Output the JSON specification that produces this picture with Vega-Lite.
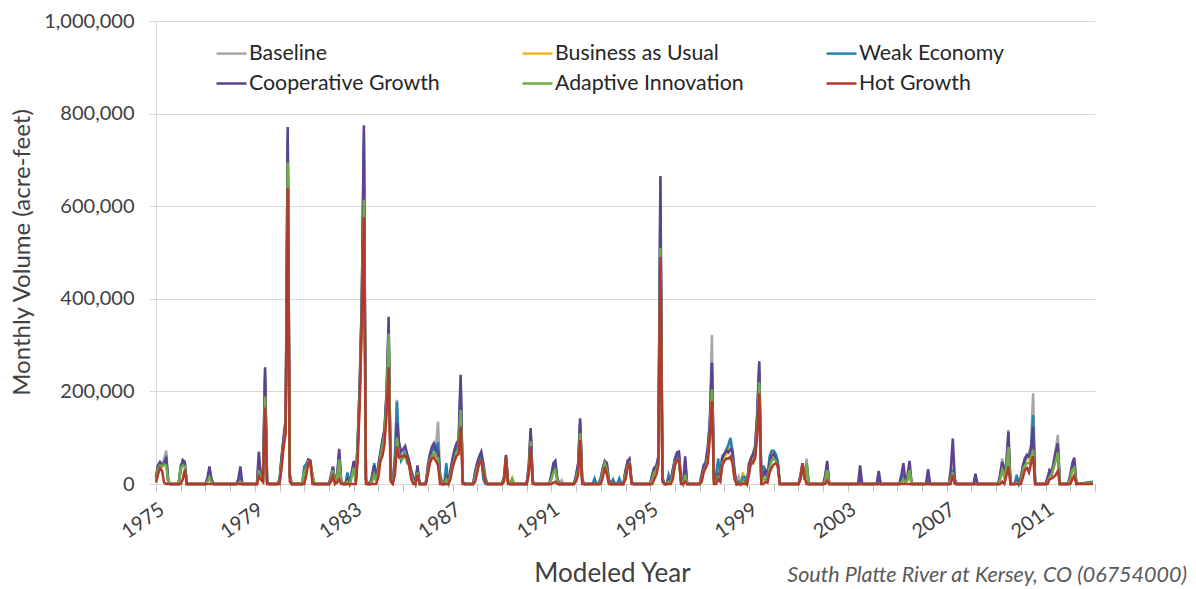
{
  "$schema": "https://vega.github.io/schema/vega-lite/v6.json",
  "width": 939,
  "height": 463,
  "autosize": {"type": "none"},
  "padding": {"left": 156, "top": 21, "right": 101, "bottom": 105},
  "background": "white",
  "config": {
    "view": {"stroke": null},
    "font": "Lato"
  },
  "title": {
    "text": "South Platte River at Kersey, CO (06754000)",
    "orient": "bottom",
    "anchor": "end",
    "frame": "group",
    "font": "Lato",
    "fontStyle": "italic",
    "fontWeight": "normal",
    "fontSize": 21.5,
    "color": "#595959",
    "dx": 92,
    "offset": -21
  },
  "data": {
    "values": [
      {"d":"1975-01","B":15000,"U":10000,"W":15000,"C":15000,"A":10000,"H":3000},
      {"d":"1975-02","B":42000,"U":35000,"W":40000,"C":40000,"A":32000,"H":22000},
      {"d":"1975-03","B":48000,"U":42000,"W":45000,"C":47000,"A":40000,"H":35000},
      {"d":"1975-04","B":42000,"U":38000,"W":40000,"C":40000,"A":38000,"H":28000},
      {"d":"1975-05","B":55000,"U":42000,"W":45000,"C":45000,"A":42000,"H":3000},
      {"d":"1975-06","B":72000,"U":50000,"W":55000,"C":58000,"A":40000,"H":0},
      {"d":"1975-07","B":8000,"U":5000,"W":5000,"C":5000,"A":5000,"H":0},
      {"d":"1975-08","B":0,"U":0,"W":0,"C":0,"A":0,"H":0},
      {"d":"1975-12","B":0,"U":0,"W":0,"C":0,"A":0,"H":0},
      {"d":"1976-01","B":30000,"U":35000,"W":40000,"C":30000,"A":35000,"H":0},
      {"d":"1976-02","B":50000,"U":45000,"W":48000,"C":52000,"A":40000,"H":10000},
      {"d":"1976-03","B":48000,"U":42000,"W":45000,"C":48000,"A":38000,"H":31000},
      {"d":"1976-04","B":0,"U":0,"W":0,"C":0,"A":0,"H":0},
      {"d":"1977-01","B":0,"U":0,"W":0,"C":0,"A":0,"H":0},
      {"d":"1977-02","B":10000,"U":8000,"W":10000,"C":15000,"A":5000,"H":0},
      {"d":"1977-03","B":30000,"U":20000,"W":25000,"C":38000,"A":15000,"H":0},
      {"d":"1977-04","B":5000,"U":3000,"W":5000,"C":10000,"A":2000,"H":0},
      {"d":"1977-05","B":0,"U":0,"W":0,"C":0,"A":0,"H":0},
      {"d":"1978-04","B":0,"U":0,"W":0,"C":0,"A":0,"H":0},
      {"d":"1978-05","B":3000,"U":2000,"W":3000,"C":10000,"A":2000,"H":0},
      {"d":"1978-06","B":15000,"U":8000,"W":10000,"C":38000,"A":5000,"H":0},
      {"d":"1978-07","B":0,"U":0,"W":0,"C":0,"A":0,"H":0},
      {"d":"1979-02","B":0,"U":0,"W":0,"C":0,"A":0,"H":0},
      {"d":"1979-03","B":60000,"U":40000,"W":45000,"C":70000,"A":30000,"H":17000},
      {"d":"1979-04","B":12000,"U":10000,"W":10000,"C":15000,"A":10000,"H":10000},
      {"d":"1979-05","B":8000,"U":5000,"W":8000,"C":10000,"A":5000,"H":5000},
      {"d":"1979-06","B":245000,"U":220000,"W":230000,"C":252000,"A":189000,"H":165000},
      {"d":"1979-07","B":5000,"U":3000,"W":5000,"C":5000,"A":3000,"H":0},
      {"d":"1979-08","B":0,"U":0,"W":0,"C":0,"A":0,"H":0},
      {"d":"1979-12","B":0,"U":0,"W":0,"C":0,"A":0,"H":0},
      {"d":"1980-01","B":5000,"U":5000,"W":5000,"C":10000,"A":5000,"H":0},
      {"d":"1980-02","B":60000,"U":50000,"W":55000,"C":60000,"A":45000,"H":35000},
      {"d":"1980-03","B":100000,"U":90000,"W":95000,"C":100000,"A":85000,"H":80000},
      {"d":"1980-04","B":140000,"U":125000,"W":130000,"C":141000,"A":120000,"H":110000},
      {"d":"1980-05","B":760000,"U":720000,"W":740000,"C":771000,"A":695000,"H":640000},
      {"d":"1980-06","B":15000,"U":15000,"W":15000,"C":20000,"A":15000,"H":5000},
      {"d":"1980-07","B":0,"U":0,"W":0,"C":0,"A":0,"H":0},
      {"d":"1980-12","B":0,"U":0,"W":0,"C":0,"A":0,"H":0},
      {"d":"1981-01","B":35000,"U":30000,"W":38000,"C":20000,"A":25000,"H":0},
      {"d":"1981-02","B":45000,"U":40000,"W":42000,"C":40000,"A":35000,"H":20000},
      {"d":"1981-03","B":52000,"U":48000,"W":50000,"C":53000,"A":48000,"H":45000},
      {"d":"1981-04","B":50000,"U":45000,"W":45000,"C":50000,"A":45000,"H":48000},
      {"d":"1981-05","B":15000,"U":12000,"W":18000,"C":15000,"A":20000,"H":0},
      {"d":"1981-06","B":0,"U":0,"W":0,"C":0,"A":0,"H":0},
      {"d":"1982-01","B":0,"U":0,"W":0,"C":0,"A":0,"H":0},
      {"d":"1982-02","B":15000,"U":12000,"W":15000,"C":20000,"A":10000,"H":5000},
      {"d":"1982-03","B":35000,"U":30000,"W":35000,"C":38000,"A":30000,"H":17000},
      {"d":"1982-04","B":5000,"U":3000,"W":5000,"C":5000,"A":3000,"H":0},
      {"d":"1982-05","B":15000,"U":10000,"W":12000,"C":20000,"A":15000,"H":3000},
      {"d":"1982-06","B":70000,"U":55000,"W":60000,"C":76000,"A":53000,"H":10000},
      {"d":"1982-07","B":5000,"U":3000,"W":5000,"C":5000,"A":3000,"H":0},
      {"d":"1982-08","B":0,"U":0,"W":0,"C":0,"A":0,"H":0},
      {"d":"1982-09","B":0,"U":0,"W":0,"C":0,"A":0,"H":0},
      {"d":"1982-10","B":5000,"U":15000,"W":25000,"C":10000,"A":5000,"H":0},
      {"d":"1982-11","B":0,"U":0,"W":0,"C":0,"A":0,"H":0},
      {"d":"1982-12","B":15000,"U":15000,"W":25000,"C":20000,"A":15000,"H":0},
      {"d":"1983-01","B":45000,"U":40000,"W":45000,"C":50000,"A":35000,"H":0},
      {"d":"1983-02","B":5000,"U":5000,"W":5000,"C":5000,"A":5000,"H":0},
      {"d":"1983-03","B":90000,"U":80000,"W":85000,"C":90000,"A":70000,"H":50000},
      {"d":"1983-04","B":220000,"U":200000,"W":210000,"C":220000,"A":190000,"H":180000},
      {"d":"1983-05","B":400000,"U":380000,"W":390000,"C":400000,"A":360000,"H":350000},
      {"d":"1983-06","B":760000,"U":700000,"W":740000,"C":775000,"A":614000,"H":576000},
      {"d":"1983-07","B":10000,"U":10000,"W":10000,"C":10000,"A":10000,"H":0},
      {"d":"1983-08","B":0,"U":0,"W":0,"C":0,"A":0,"H":0},
      {"d":"1983-09","B":0,"U":0,"W":0,"C":0,"A":0,"H":0},
      {"d":"1983-10","B":15000,"U":10000,"W":20000,"C":10000,"A":5000,"H":0},
      {"d":"1983-11","B":40000,"U":35000,"W":45000,"C":40000,"A":20000,"H":0},
      {"d":"1983-12","B":10000,"U":8000,"W":10000,"C":10000,"A":5000,"H":0},
      {"d":"1984-01","B":38000,"U":35000,"W":40000,"C":40000,"A":30000,"H":15000},
      {"d":"1984-02","B":65000,"U":60000,"W":65000,"C":70000,"A":55000,"H":50000},
      {"d":"1984-03","B":90000,"U":85000,"W":90000,"C":95000,"A":80000,"H":60000},
      {"d":"1984-04","B":115000,"U":110000,"W":115000,"C":120000,"A":105000,"H":85000},
      {"d":"1984-05","B":195000,"U":185000,"W":190000,"C":200000,"A":175000,"H":150000},
      {"d":"1984-06","B":340000,"U":320000,"W":330000,"C":361000,"A":325000,"H":252000},
      {"d":"1984-07","B":15000,"U":10000,"W":15000,"C":10000,"A":10000,"H":5000},
      {"d":"1984-08","B":5000,"U":5000,"W":5000,"C":5000,"A":5000,"H":0},
      {"d":"1984-09","B":50000,"U":45000,"W":60000,"C":40000,"A":30000,"H":20000},
      {"d":"1984-10","B":182000,"U":150000,"W":178000,"C":132000,"A":100000,"H":81000},
      {"d":"1984-11","B":80000,"U":65000,"W":70000,"C":90000,"A":60000,"H":58000},
      {"d":"1984-12","B":60000,"U":55000,"W":50000,"C":70000,"A":55000,"H":60000},
      {"d":"1985-01","B":65000,"U":60000,"W":60000,"C":75000,"A":55000,"H":60000},
      {"d":"1985-02","B":75000,"U":70000,"W":70000,"C":82000,"A":65000,"H":62000},
      {"d":"1985-03","B":60000,"U":50000,"W":50000,"C":65000,"A":45000,"H":55000},
      {"d":"1985-04","B":45000,"U":40000,"W":40000,"C":50000,"A":40000,"H":40000},
      {"d":"1985-05","B":25000,"U":20000,"W":20000,"C":30000,"A":20000,"H":10000},
      {"d":"1985-06","B":10000,"U":8000,"W":10000,"C":15000,"A":5000,"H":0},
      {"d":"1985-07","B":0,"U":0,"W":0,"C":0,"A":0,"H":0},
      {"d":"1985-08","B":35000,"U":30000,"W":35000,"C":40000,"A":25000,"H":20000},
      {"d":"1985-09","B":0,"U":0,"W":0,"C":0,"A":0,"H":0},
      {"d":"1985-12","B":0,"U":0,"W":0,"C":0,"A":0,"H":0},
      {"d":"1986-01","B":35000,"U":30000,"W":30000,"C":40000,"A":30000,"H":20000},
      {"d":"1986-02","B":60000,"U":55000,"W":55000,"C":65000,"A":50000,"H":45000},
      {"d":"1986-03","B":75000,"U":70000,"W":70000,"C":80000,"A":60000,"H":55000},
      {"d":"1986-04","B":85000,"U":75000,"W":80000,"C":88000,"A":65000,"H":57000},
      {"d":"1986-05","B":80000,"U":65000,"W":70000,"C":75000,"A":60000,"H":50000},
      {"d":"1986-06","B":135000,"U":60000,"W":90000,"C":70000,"A":55000,"H":40000},
      {"d":"1986-07","B":20000,"U":10000,"W":15000,"C":20000,"A":10000,"H":0},
      {"d":"1986-08","B":0,"U":0,"W":0,"C":0,"A":0,"H":0},
      {"d":"1986-09","B":0,"U":0,"W":0,"C":0,"A":0,"H":0},
      {"d":"1986-10","B":15000,"U":10000,"W":45000,"C":20000,"A":10000,"H":0},
      {"d":"1986-11","B":0,"U":0,"W":0,"C":0,"A":0,"H":0},
      {"d":"1986-12","B":25000,"U":20000,"W":25000,"C":30000,"A":20000,"H":10000},
      {"d":"1987-01","B":50000,"U":45000,"W":45000,"C":55000,"A":40000,"H":35000},
      {"d":"1987-02","B":70000,"U":60000,"W":65000,"C":75000,"A":55000,"H":50000},
      {"d":"1987-03","B":85000,"U":75000,"W":80000,"C":88000,"A":70000,"H":60000},
      {"d":"1987-04","B":90000,"U":80000,"W":85000,"C":95000,"A":75000,"H":65000},
      {"d":"1987-05","B":230000,"U":200000,"W":215000,"C":236000,"A":160000,"H":124000},
      {"d":"1987-06","B":5000,"U":3000,"W":5000,"C":5000,"A":3000,"H":0},
      {"d":"1987-07","B":0,"U":0,"W":0,"C":0,"A":0,"H":0},
      {"d":"1987-11","B":0,"U":0,"W":0,"C":0,"A":0,"H":0},
      {"d":"1987-12","B":25000,"U":20000,"W":25000,"C":25000,"A":15000,"H":5000},
      {"d":"1988-01","B":45000,"U":40000,"W":45000,"C":45000,"A":35000,"H":25000},
      {"d":"1988-02","B":58000,"U":50000,"W":55000,"C":60000,"A":45000,"H":45000},
      {"d":"1988-03","B":65000,"U":55000,"W":60000,"C":70000,"A":50000,"H":50000},
      {"d":"1988-04","B":40000,"U":35000,"W":10000,"C":45000,"A":35000,"H":25000},
      {"d":"1988-05","B":10000,"U":5000,"W":0,"C":15000,"A":10000,"H":5000},
      {"d":"1988-06","B":0,"U":0,"W":0,"C":0,"A":0,"H":0},
      {"d":"1989-01","B":0,"U":0,"W":0,"C":0,"A":0,"H":0},
      {"d":"1989-02","B":15000,"U":12000,"W":15000,"C":15000,"A":10000,"H":5000},
      {"d":"1989-03","B":60000,"U":55000,"W":55000,"C":63000,"A":50000,"H":58000},
      {"d":"1989-04","B":5000,"U":3000,"W":5000,"C":5000,"A":5000,"H":0},
      {"d":"1989-05","B":0,"U":0,"W":0,"C":0,"A":0,"H":0},
      {"d":"1989-06","B":5000,"U":0,"W":0,"C":0,"A":12000,"H":0},
      {"d":"1989-07","B":0,"U":0,"W":0,"C":0,"A":0,"H":0},
      {"d":"1990-01","B":0,"U":0,"W":0,"C":0,"A":0,"H":0},
      {"d":"1990-02","B":35000,"U":30000,"W":30000,"C":40000,"A":25000,"H":20000},
      {"d":"1990-03","B":115000,"U":100000,"W":110000,"C":121000,"A":92000,"H":82000},
      {"d":"1990-04","B":5000,"U":3000,"W":5000,"C":5000,"A":3000,"H":0},
      {"d":"1990-05","B":0,"U":0,"W":0,"C":0,"A":0,"H":0},
      {"d":"1990-12","B":0,"U":0,"W":0,"C":0,"A":0,"H":0},
      {"d":"1991-01","B":18000,"U":15000,"W":15000,"C":20000,"A":10000,"H":0},
      {"d":"1991-02","B":42000,"U":38000,"W":40000,"C":45000,"A":25000,"H":3000},
      {"d":"1991-03","B":45000,"U":40000,"W":42000,"C":50000,"A":30000,"H":5000},
      {"d":"1991-04","B":10000,"U":5000,"W":5000,"C":10000,"A":5000,"H":0},
      {"d":"1991-05","B":0,"U":0,"W":0,"C":0,"A":0,"H":0},
      {"d":"1991-06","B":8000,"U":0,"W":0,"C":0,"A":0,"H":0},
      {"d":"1991-07","B":0,"U":0,"W":0,"C":0,"A":0,"H":0},
      {"d":"1991-12","B":0,"U":0,"W":0,"C":0,"A":0,"H":0},
      {"d":"1992-01","B":18000,"U":15000,"W":15000,"C":20000,"A":10000,"H":5000},
      {"d":"1992-02","B":42000,"U":38000,"W":40000,"C":45000,"A":30000,"H":20000},
      {"d":"1992-03","B":138000,"U":125000,"W":130000,"C":142000,"A":110000,"H":95000},
      {"d":"1992-04","B":10000,"U":5000,"W":5000,"C":10000,"A":5000,"H":0},
      {"d":"1992-05","B":0,"U":0,"W":0,"C":0,"A":0,"H":0},
      {"d":"1992-09","B":0,"U":0,"W":0,"C":0,"A":0,"H":0},
      {"d":"1992-10","B":5000,"U":0,"W":12000,"C":0,"A":0,"H":0},
      {"d":"1992-11","B":0,"U":0,"W":0,"C":0,"A":0,"H":0},
      {"d":"1992-12","B":0,"U":0,"W":0,"C":0,"A":0,"H":0},
      {"d":"1993-01","B":10000,"U":5000,"W":15000,"C":10000,"A":5000,"H":0},
      {"d":"1993-02","B":35000,"U":30000,"W":35000,"C":35000,"A":30000,"H":15000},
      {"d":"1993-03","B":48000,"U":42000,"W":45000,"C":50000,"A":45000,"H":37000},
      {"d":"1993-04","B":40000,"U":35000,"W":35000,"C":45000,"A":30000,"H":20000},
      {"d":"1993-05","B":5000,"U":3000,"W":5000,"C":10000,"A":3000,"H":0},
      {"d":"1993-06","B":0,"U":0,"W":0,"C":0,"A":0,"H":0},
      {"d":"1993-07","B":0,"U":0,"W":10000,"C":0,"A":0,"H":0},
      {"d":"1993-08","B":0,"U":0,"W":0,"C":0,"A":0,"H":0},
      {"d":"1993-09","B":0,"U":0,"W":0,"C":0,"A":0,"H":0},
      {"d":"1993-10","B":0,"U":0,"W":12000,"C":0,"A":0,"H":0},
      {"d":"1993-11","B":0,"U":0,"W":0,"C":0,"A":0,"H":0},
      {"d":"1993-12","B":0,"U":0,"W":0,"C":0,"A":0,"H":0},
      {"d":"1994-01","B":28000,"U":25000,"W":25000,"C":30000,"A":20000,"H":10000},
      {"d":"1994-02","B":48000,"U":45000,"W":45000,"C":50000,"A":40000,"H":35000},
      {"d":"1994-03","B":52000,"U":48000,"W":50000,"C":55000,"A":45000,"H":45000},
      {"d":"1994-04","B":5000,"U":3000,"W":5000,"C":5000,"A":3000,"H":0},
      {"d":"1994-05","B":0,"U":0,"W":0,"C":0,"A":0,"H":0},
      {"d":"1995-01","B":0,"U":0,"W":0,"C":0,"A":0,"H":0},
      {"d":"1995-02","B":15000,"U":15000,"W":20000,"C":20000,"A":10000,"H":0},
      {"d":"1995-03","B":30000,"U":30000,"W":35000,"C":35000,"A":25000,"H":10000},
      {"d":"1995-04","B":35000,"U":35000,"W":38000,"C":38000,"A":30000,"H":20000},
      {"d":"1995-05","B":55000,"U":50000,"W":55000,"C":60000,"A":45000,"H":40000},
      {"d":"1995-06","B":662000,"U":560000,"W":600000,"C":665000,"A":510000,"H":490000},
      {"d":"1995-07","B":10000,"U":8000,"W":10000,"C":15000,"A":8000,"H":5000},
      {"d":"1995-08","B":0,"U":0,"W":0,"C":0,"A":0,"H":0},
      {"d":"1995-09","B":0,"U":0,"W":0,"C":0,"A":0,"H":0},
      {"d":"1995-10","B":10000,"U":10000,"W":20000,"C":10000,"A":5000,"H":0},
      {"d":"1995-11","B":5000,"U":5000,"W":5000,"C":5000,"A":3000,"H":0},
      {"d":"1995-12","B":30000,"U":25000,"W":30000,"C":30000,"A":20000,"H":10000},
      {"d":"1996-01","B":50000,"U":45000,"W":50000,"C":55000,"A":45000,"H":40000},
      {"d":"1996-02","B":65000,"U":55000,"W":60000,"C":68000,"A":50000,"H":50000},
      {"d":"1996-03","B":65000,"U":60000,"W":60000,"C":70000,"A":50000,"H":55000},
      {"d":"1996-04","B":10000,"U":5000,"W":10000,"C":10000,"A":5000,"H":0},
      {"d":"1996-05","B":0,"U":0,"W":0,"C":0,"A":0,"H":0},
      {"d":"1996-06","B":50000,"U":25000,"W":25000,"C":60000,"A":20000,"H":5000},
      {"d":"1996-07","B":0,"U":0,"W":0,"C":0,"A":0,"H":0},
      {"d":"1997-01","B":0,"U":0,"W":0,"C":0,"A":0,"H":0},
      {"d":"1997-02","B":15000,"U":15000,"W":20000,"C":20000,"A":10000,"H":5000},
      {"d":"1997-03","B":38000,"U":35000,"W":40000,"C":40000,"A":30000,"H":25000},
      {"d":"1997-04","B":45000,"U":40000,"W":45000,"C":48000,"A":35000,"H":35000},
      {"d":"1997-05","B":75000,"U":65000,"W":70000,"C":80000,"A":55000,"H":45000},
      {"d":"1997-06","B":140000,"U":120000,"W":135000,"C":130000,"A":110000,"H":100000},
      {"d":"1997-07","B":322000,"U":240000,"W":261000,"C":262000,"A":204000,"H":179000},
      {"d":"1997-08","B":5000,"U":5000,"W":5000,"C":10000,"A":5000,"H":0},
      {"d":"1997-09","B":5000,"U":10000,"W":20000,"C":5000,"A":5000,"H":0},
      {"d":"1997-10","B":40000,"U":40000,"W":55000,"C":20000,"A":15000,"H":10000},
      {"d":"1997-11","B":15000,"U":15000,"W":20000,"C":10000,"A":10000,"H":5000},
      {"d":"1997-12","B":60000,"U":55000,"W":60000,"C":55000,"A":45000,"H":40000},
      {"d":"1998-01","B":65000,"U":60000,"W":65000,"C":65000,"A":50000,"H":50000},
      {"d":"1998-02","B":70000,"U":65000,"W":75000,"C":72000,"A":55000,"H":55000},
      {"d":"1998-03","B":75000,"U":70000,"W":85000,"C":68000,"A":55000,"H":55000},
      {"d":"1998-04","B":100000,"U":80000,"W":99000,"C":75000,"A":60000,"H":58000},
      {"d":"1998-05","B":75000,"U":60000,"W":70000,"C":70000,"A":50000,"H":45000},
      {"d":"1998-06","B":25000,"U":20000,"W":20000,"C":30000,"A":15000,"H":10000},
      {"d":"1998-07","B":0,"U":0,"W":0,"C":0,"A":0,"H":0},
      {"d":"1998-08","B":15000,"U":0,"W":5000,"C":0,"A":0,"H":0},
      {"d":"1998-09","B":0,"U":0,"W":0,"C":0,"A":0,"H":0},
      {"d":"1998-10","B":10000,"U":25000,"W":15000,"C":5000,"A":5000,"H":0},
      {"d":"1998-11","B":5000,"U":10000,"W":15000,"C":5000,"A":0,"H":0},
      {"d":"1998-12","B":0,"U":0,"W":0,"C":0,"A":0,"H":0},
      {"d":"1999-01","B":40000,"U":40000,"W":45000,"C":40000,"A":30000,"H":20000},
      {"d":"1999-02","B":55000,"U":50000,"W":55000,"C":57000,"A":45000,"H":50000},
      {"d":"1999-03","B":60000,"U":55000,"W":60000,"C":65000,"A":50000,"H":45000},
      {"d":"1999-04","B":80000,"U":70000,"W":75000,"C":82000,"A":60000,"H":55000},
      {"d":"1999-05","B":150000,"U":130000,"W":140000,"C":150000,"A":120000,"H":100000},
      {"d":"1999-06","B":262000,"U":235000,"W":245000,"C":265000,"A":220000,"H":196000},
      {"d":"1999-07","B":10000,"U":5000,"W":10000,"C":10000,"A":5000,"H":0},
      {"d":"1999-08","B":30000,"U":30000,"W":40000,"C":20000,"A":10000,"H":0},
      {"d":"1999-09","B":20000,"U":15000,"W":20000,"C":30000,"A":10000,"H":5000},
      {"d":"1999-10","B":15000,"U":15000,"W":15000,"C":20000,"A":10000,"H":3000},
      {"d":"1999-11","B":50000,"U":55000,"W":60000,"C":45000,"A":35000,"H":25000},
      {"d":"1999-12","B":68000,"U":70000,"W":72000,"C":60000,"A":50000,"H":35000},
      {"d":"2000-01","B":70000,"U":70000,"W":72000,"C":65000,"A":55000,"H":42000},
      {"d":"2000-02","B":60000,"U":60000,"W":65000,"C":55000,"A":50000,"H":45000},
      {"d":"2000-03","B":45000,"U":45000,"W":50000,"C":40000,"A":40000,"H":40000},
      {"d":"2000-04","B":0,"U":0,"W":0,"C":0,"A":0,"H":0},
      {"d":"2001-01","B":0,"U":0,"W":0,"C":0,"A":0,"H":0},
      {"d":"2001-02","B":20000,"U":15000,"W":15000,"C":20000,"A":15000,"H":10000},
      {"d":"2001-03","B":45000,"U":40000,"W":40000,"C":45000,"A":40000,"H":45000},
      {"d":"2001-04","B":10000,"U":10000,"W":10000,"C":10000,"A":10000,"H":15000},
      {"d":"2001-05","B":55000,"U":40000,"W":40000,"C":45000,"A":45000,"H":0},
      {"d":"2001-06","B":0,"U":0,"W":0,"C":0,"A":0,"H":0},
      {"d":"2002-01","B":0,"U":0,"W":0,"C":0,"A":0,"H":0},
      {"d":"2002-02","B":15000,"U":10000,"W":15000,"C":20000,"A":10000,"H":0},
      {"d":"2002-03","B":45000,"U":40000,"W":40000,"C":50000,"A":30000,"H":8000},
      {"d":"2002-04","B":0,"U":0,"W":0,"C":0,"A":0,"H":0},
      {"d":"2003-06","B":0,"U":0,"W":0,"C":0,"A":0,"H":0},
      {"d":"2003-07","B":10000,"U":0,"W":10000,"C":40000,"A":0,"H":0},
      {"d":"2003-08","B":0,"U":0,"W":0,"C":0,"A":0,"H":0},
      {"d":"2004-03","B":0,"U":0,"W":0,"C":0,"A":0,"H":0},
      {"d":"2004-04","B":10000,"U":0,"W":8000,"C":28000,"A":0,"H":0},
      {"d":"2004-05","B":0,"U":0,"W":0,"C":0,"A":0,"H":0},
      {"d":"2005-02","B":0,"U":0,"W":0,"C":0,"A":0,"H":0},
      {"d":"2005-03","B":5000,"U":3000,"W":5000,"C":20000,"A":3000,"H":0},
      {"d":"2005-04","B":25000,"U":15000,"W":20000,"C":45000,"A":10000,"H":0},
      {"d":"2005-05","B":5000,"U":3000,"W":5000,"C":5000,"A":3000,"H":0},
      {"d":"2005-06","B":10000,"U":8000,"W":10000,"C":20000,"A":10000,"H":0},
      {"d":"2005-07","B":35000,"U":25000,"W":30000,"C":50000,"A":30000,"H":0},
      {"d":"2005-08","B":0,"U":0,"W":0,"C":0,"A":0,"H":0},
      {"d":"2006-03","B":0,"U":0,"W":0,"C":0,"A":0,"H":0},
      {"d":"2006-04","B":8000,"U":0,"W":5000,"C":32000,"A":0,"H":0},
      {"d":"2006-05","B":0,"U":0,"W":0,"C":0,"A":0,"H":0},
      {"d":"2007-02","B":0,"U":0,"W":0,"C":0,"A":0,"H":0},
      {"d":"2007-03","B":20000,"U":10000,"W":15000,"C":30000,"A":10000,"H":0},
      {"d":"2007-04","B":60000,"U":25000,"W":30000,"C":98000,"A":25000,"H":20000},
      {"d":"2007-05","B":5000,"U":3000,"W":5000,"C":10000,"A":3000,"H":0},
      {"d":"2007-06","B":0,"U":0,"W":0,"C":0,"A":0,"H":0},
      {"d":"2008-02","B":0,"U":0,"W":0,"C":0,"A":0,"H":0},
      {"d":"2008-03","B":5000,"U":0,"W":3000,"C":22000,"A":0,"H":0},
      {"d":"2008-04","B":0,"U":0,"W":0,"C":0,"A":0,"H":0},
      {"d":"2009-02","B":0,"U":0,"W":0,"C":0,"A":0,"H":0},
      {"d":"2009-03","B":20000,"U":15000,"W":15000,"C":20000,"A":10000,"H":0},
      {"d":"2009-04","B":55000,"U":40000,"W":40000,"C":48000,"A":30000,"H":5000},
      {"d":"2009-05","B":30000,"U":20000,"W":20000,"C":25000,"A":15000,"H":0},
      {"d":"2009-06","B":45000,"U":35000,"W":40000,"C":45000,"A":35000,"H":18000},
      {"d":"2009-07","B":117000,"U":85000,"W":90000,"C":113000,"A":80000,"H":38000},
      {"d":"2009-08","B":0,"U":0,"W":0,"C":0,"A":0,"H":0},
      {"d":"2009-10","B":0,"U":0,"W":0,"C":0,"A":0,"H":0},
      {"d":"2009-11","B":5000,"U":5000,"W":20000,"C":5000,"A":3000,"H":0},
      {"d":"2009-12","B":0,"U":0,"W":0,"C":0,"A":0,"H":0},
      {"d":"2010-01","B":15000,"U":10000,"W":10000,"C":15000,"A":5000,"H":0},
      {"d":"2010-02","B":40000,"U":30000,"W":35000,"C":40000,"A":30000,"H":15000},
      {"d":"2010-03","B":55000,"U":45000,"W":50000,"C":55000,"A":40000,"H":30000},
      {"d":"2010-04","B":65000,"U":55000,"W":60000,"C":62000,"A":45000,"H":35000},
      {"d":"2010-05","B":65000,"U":55000,"W":60000,"C":60000,"A":45000,"H":25000},
      {"d":"2010-06","B":85000,"U":70000,"W":80000,"C":75000,"A":55000,"H":45000},
      {"d":"2010-07","B":196000,"U":110000,"W":149000,"C":123000,"A":74000,"H":60000},
      {"d":"2010-08","B":0,"U":0,"W":0,"C":0,"A":0,"H":0},
      {"d":"2011-01","B":0,"U":0,"W":0,"C":0,"A":0,"H":0},
      {"d":"2011-02","B":10000,"U":5000,"W":10000,"C":15000,"A":5000,"H":0},
      {"d":"2011-03","B":30000,"U":20000,"W":25000,"C":30000,"A":15000,"H":10000},
      {"d":"2011-04","B":25000,"U":20000,"W":20000,"C":25000,"A":20000,"H":12000},
      {"d":"2011-05","B":50000,"U":40000,"W":45000,"C":45000,"A":35000,"H":15000},
      {"d":"2011-06","B":75000,"U":60000,"W":70000,"C":70000,"A":50000,"H":20000},
      {"d":"2011-07","B":106000,"U":75000,"W":80000,"C":88000,"A":68000,"H":28000},
      {"d":"2011-08","B":0,"U":0,"W":0,"C":0,"A":0,"H":0},
      {"d":"2011-12","B":0,"U":0,"W":0,"C":0,"A":0,"H":0},
      {"d":"2012-01","B":15000,"U":10000,"W":15000,"C":20000,"A":10000,"H":0},
      {"d":"2012-02","B":40000,"U":30000,"W":35000,"C":45000,"A":30000,"H":10000},
      {"d":"2012-03","B":50000,"U":40000,"W":45000,"C":57000,"A":35000,"H":18000},
      {"d":"2012-04","B":0,"U":0,"W":0,"C":0,"A":0,"H":0},
      {"d":"2012-12","B":3000,"U":3000,"W":5000,"C":3000,"A":3000,"H":0}
    ]
  },
  "transform": [{"fold": ["B", "U", "W", "C", "A", "H"], "as": ["s", "v"]}],
  "encoding": {
    "x": {
      "field": "d",
      "type": "temporal",
      "scale": {
        "type": "utc",
        "domain": [{"year": 1975, "month": 1, "date": 1, "utc": true}, {"year": 2013, "month": 1, "date": 1, "utc": true}]
      },
      "axis": {
        "title": "Modeled Year",
        "titleFont": "Lato",
        "titleFontSize": 26,
        "titleFontWeight": "normal",
        "titleColor": "#404040",
        "titleX": 456,
        "titleY": 89,
        "titleBaseline": "middle",
        "tickCount": {"interval": "year", "step": 1},
        "labelExpr": "(utcyear(datum.value) - 1975) % 4 == 0 ? utcFormat(datum.value, '%Y') : ''",
        "labelAngle": -35,
        "labelAlign": "right",
        "labelBaseline": "top",
        "labelFont": "Lato",
        "labelFontSize": 20,
        "labelColor": "#404040",
        "labelPadding": 8,
        "labelOverlap": false,
        "labelFlush": false,
        "labelBound": false,
        "tickColor": "#bfbfbf",
        "tickSize": 7,
        "domainColor": "#d9d9d9",
        "grid": false
      }
    },
    "y": {
      "field": "v",
      "type": "quantitative",
      "scale": {"domain": [0, 1000000], "nice": false},
      "axis": {
        "title": "Monthly Volume (acre-feet)",
        "titleFont": "Lato",
        "titleFontSize": 24,
        "titleFontWeight": "normal",
        "titleColor": "#404040",
        "titleX": -134,
        "titleY": 231,
        "titleAngle": -90,
        "titleBaseline": "middle",
        "titleAlign": "center",
        "values": [0, 200000, 400000, 600000, 800000, 1000000],
        "format": ",d",
        "labelFont": "Lato",
        "labelFontSize": 20,
        "labelColor": "#404040",
        "labelPadding": 15,
        "tickColor": "#d9d9d9",
        "tickSize": 7,
        "domainColor": "#d9d9d9",
        "grid": true,
        "gridColor": "#d9d9d9"
      }
    },
    "color": {
      "field": "s",
      "type": "nominal",
      "scale": {
        "domain": ["B", "U", "W", "C", "A", "H"],
        "range": ["#A6A6A6", "#F0B323", "#2683B0", "#5C4290", "#70AD47", "#B5382C"]
      },
      "legend": {
        "title": null,
        "orient": "none",
        "legendX": 59,
        "legendY": 16,
        "direction": "horizontal",
        "columns": 3,
        "columnPadding": 77,
        "rowPadding": 3,
        "padding": 0,
        "symbolType": "stroke",
        "symbolSize": 900,
        "symbolStrokeWidth": 2.5,
        "labelOffset": 1,
        "labelFont": "Lato",
        "labelFontSize": 21.3,
        "labelColor": "#262626",
        "labelLimit": 400,
        "labelExpr": "datum.label == 'B' ? 'Baseline' : datum.label == 'U' ? 'Business as Usual' : datum.label == 'W' ? 'Weak Economy' : datum.label == 'C' ? 'Cooperative Growth' : datum.label == 'A' ? 'Adaptive Innovation' : 'Hot Growth'"
      }
    }
  },
  "layer": [
    {"transform": [{"filter": "datum.s == 'B'"}], "mark": {"type": "line", "strokeWidth": 2.5}},
    {"transform": [{"filter": "datum.s == 'U'"}], "mark": {"type": "line", "strokeWidth": 2.5}},
    {"transform": [{"filter": "datum.s == 'W'"}], "mark": {"type": "line", "strokeWidth": 2.5}},
    {"transform": [{"filter": "datum.s == 'C'"}], "mark": {"type": "line", "strokeWidth": 2.5}},
    {"transform": [{"filter": "datum.s == 'A'"}], "mark": {"type": "line", "strokeWidth": 2.5}},
    {"transform": [{"filter": "datum.s == 'H'"}], "mark": {"type": "line", "strokeWidth": 2.5}}
  ]
}
